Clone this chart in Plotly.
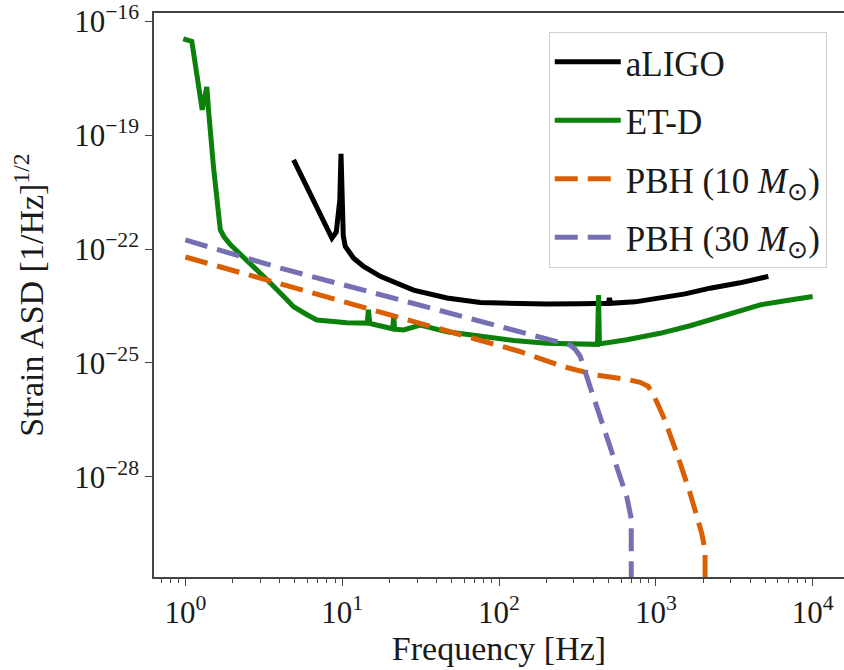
import plotly.graph_objects as go

# ---------------- data ----------------
aligo_f = [4.9, 6.45, 8.6, 9.17, 9.66, 9.83, 9.94, 10.16, 10.47, 11.83, 13.7, 17.5, 28.5,
           46.6, 75.9, 124, 202, 329, 497, 506, 515, 738, 1065, 1538, 2218, 3444, 5220]
aligo_h = [2.24e-20, 2.34e-21, 1.95e-22, 2.82e-22, 2.0e-21, 3.24e-20, 2.0e-21, 2.24e-22,
           1.17e-22, 5.75e-23, 3.47e-23, 1.91e-23, 8.32e-24, 5.13e-24, 3.89e-24, 3.63e-24,
           3.55e-24, 3.63e-24, 3.72e-24, 5.13e-24, 3.72e-24, 4.07e-24, 5.13e-24, 6.6e-24,
           9.33e-24, 1.29e-23, 1.91e-23]

etd_f = [0.97, 1.10, 1.28, 1.37, 1.41, 1.51, 1.67, 1.76, 1.94, 2.59, 3.32, 4.24, 4.9, 5.97,
         6.9, 8.8, 10.7, 14.45, 14.7, 15.0, 20.3, 21.0, 21.3, 21.6, 24.6, 31.5, 46.6, 75.9,
         124, 202, 330, 425, 431, 437, 653, 1065, 1655, 2218, 3200, 4624, 7178, 10000]
etd_h = [3.47e-17, 2.95e-17, 4.68e-19, 1.86e-18, 3.89e-19, 1.51e-20, 3.24e-22, 2.14e-22,
         1.29e-22, 4.27e-23, 1.55e-23, 5.62e-24, 3.02e-24, 1.86e-24, 1.35e-24, 1.23e-24,
         1.15e-24, 1.12e-24, 2.51e-24, 1.10e-24, 8.13e-25, 7.94e-25, 1.66e-24, 7.76e-25,
         7.41e-25, 1.0e-24, 6.61e-25, 4.9e-25, 3.89e-25, 3.31e-25, 3.09e-25, 3.09e-25,
         6.17e-24, 3.16e-25, 4.07e-25, 6.03e-25, 9.55e-25, 1.35e-24, 2.19e-24, 3.39e-24,
         4.57e-24, 5.62e-24]

pbh10_f = [1.0, 136, 258, 346, 421, 685, 794, 893, 966, 1119, 1361, 1656, 1963, 2061, 2061]
pbh10_h = [6.17e-23, 2.0e-25, 7.94e-26, 5.89e-26, 4.79e-26, 3.55e-26, 3.09e-26, 2.45e-26,
           1.45e-26, 3.80e-27, 4.17e-28, 3.63e-29, 3.24e-30, 1.17e-30, 1e-40]

pbh30_f = [1.0, 4.03, 234, 284, 306, 330, 381, 463, 564, 653, 697, 697]
pbh30_h = [1.74e-22, 3.16e-23, 3.63e-25, 2.95e-25, 2.29e-25, 1.48e-25, 2.34e-26, 2.09e-27,
           1.51e-28, 2.95e-29, 7.94e-30, 1e-40]

series_names = ["aLIGO", "ET-D", "PBH (10 <i>M</i><sub>⊙</sub>)", "PBH (30 <i>M</i><sub>⊙</sub>)"]

x_tickvals = [1, 10, 100, 1000, 10000]
x_ticktext = ["10<sup>0</sup>", "10<sup>1</sup>", "10<sup>2</sup>", "10<sup>3</sup>", "10<sup>4</sup>"]
y_tickvals = [1e-16, 1e-19, 1e-22, 1e-25, 1e-28]
y_ticktext = ["10<sup>−16</sup>", "10<sup>−19</sup>", "10<sup>−22</sup>",
              "10<sup>−25</sup>", "10<sup>−28</sup>"]
x_minor = [m * 10 ** d for d in range(-1, 5) for m in range(2, 10)]

# ---------------- figure ----------------
FONT = "Liberation Serif"
TXT = "#1a1a1a"
LW = 5
DASH = "23px,10px"

fig = go.Figure()
fig.add_trace(go.Scatter(x=aligo_f, y=aligo_h, mode="lines", name=series_names[0],
                         legendgroup="a", line=dict(color="black", width=LW)))
fig.add_trace(go.Scatter(x=etd_f, y=etd_h, mode="lines", name=series_names[1],
                         legendgroup="b", line=dict(color="#0b800b", width=LW)))
fig.add_trace(go.Scatter(x=pbh10_f, y=pbh10_h, mode="lines", name=series_names[2],
                         legendgroup="c", line=dict(color="#d95f02", width=LW, dash=DASH)))
fig.add_trace(go.Scatter(x=pbh30_f, y=pbh30_h, mode="lines", name=series_names[3],
                         legendgroup="d", line=dict(color="#7570b3", width=LW, dash=DASH)))

axis_common = dict(
    type="log", showgrid=False, zeroline=False, showline=True,
    linecolor="#444444", linewidth=1.5, ticks="outside", ticklen=7, tickwidth=1.3,
    tickcolor="#444444", tickfont=dict(family=FONT, size=31, color=TXT),
)

fig.update_xaxes(
    **axis_common, range=[-0.2, 4.2], mirror=True,
    tickmode="array", tickvals=x_tickvals, ticktext=x_ticktext,
    minor=dict(tickmode="array", tickvals=x_minor, ticks="outside", ticklen=4,
               tickwidth=1.0, tickcolor="#444444", showgrid=False),
    title=dict(text="Frequency [Hz]", font=dict(family=FONT, size=34, color=TXT),
               standoff=2),
)
fig.update_yaxes(
    **axis_common, range=[-30.64, -15.78], mirror=False,
    tickmode="array", tickvals=y_tickvals, ticktext=y_ticktext,
    title=dict(text="Strain ASD [1/Hz]<sup>1/2</sup>",
               font=dict(family=FONT, size=34, color=TXT), standoff=20),
)

fig.update_layout(
    width=844, height=670,
    margin=dict(l=154, r=0, t=13, b=93),
    paper_bgcolor="white", plot_bgcolor="white",
    showlegend=True,
    legend=dict(
        x=0.975, y=0.967, xanchor="right", yanchor="top",
        bgcolor="rgba(255,255,255,0.85)", bordercolor="#d0d0d0", borderwidth=1,
        font=dict(family=FONT, size=35, color=TXT),
        tracegroupgap=10, itemwidth=66,
    ),
)

fig.write_html("out.html")
